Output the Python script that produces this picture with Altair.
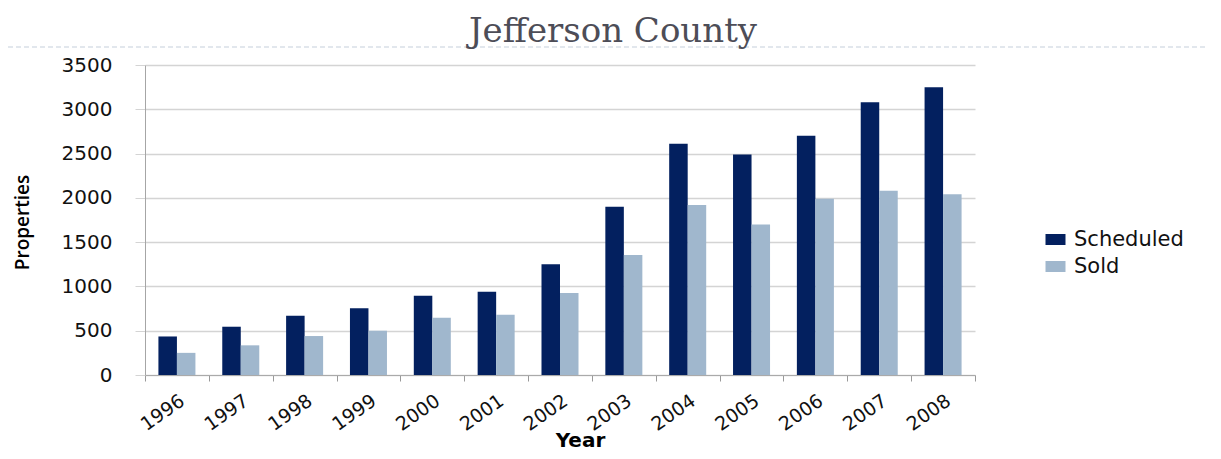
import altair as alt
import pandas as pd

years = ["1996", "1997", "1998", "1999", "2000", "2001", "2002",
         "2003", "2004", "2005", "2006", "2007", "2008"]
scheduled = [435, 545, 670, 755, 895, 940, 1250, 1900, 2610, 2490, 2700, 3080, 3250]
sold = [250, 335, 440, 500, 645, 680, 925, 1355, 1920, 1700, 1990, 2080, 2040]
series = ["Scheduled", "Sold"]
colors = ["#03205f", "#a0b7cd"]
y_ticks = [0, 500, 1000, 1500, 2000, 2500, 3000, 3500]

rows = []
for i, yr in enumerate(years):
    rows.append({"Year": yr, "Series": "Scheduled", "Properties": scheduled[i]})
    rows.append({"Year": yr, "Series": "Sold", "Properties": sold[i]})
df = pd.DataFrame(rows)

bars = alt.Chart(df).mark_bar().encode(
    x=alt.X(
        "Year:N", sort=years,
        scale=alt.Scale(paddingInner=0, paddingOuter=0),
        axis=alt.Axis(
            title="Year", labelAngle=-35, labelAlign="right", labelBaseline="top",
            labelFont="DejaVu Sans", labelFontSize=19, labelColor="#111111",
            labelPadding=10, tickBand="extent", tickSize=6, tickColor="#999999",
            domainColor="#aaaaaa", grid=False,
            titleFont="DejaVu Sans", titleFontSize=20, titleFontWeight="bold",
            titleColor="#000000", titleX=435, titleY=71, titleBaseline="alphabetic",
            titleAlign="center",
        ),
    ),
    xOffset=alt.XOffset("Series:N", sort=series,
                        scale=alt.Scale(paddingOuter=0.725, paddingInner=0)),
    y=alt.Y(
        "Properties:Q",
        scale=alt.Scale(domain=[0, 3500]),
        axis=alt.Axis(
            values=y_ticks, format="d", title="Properties",
            labelFont="DejaVu Sans", labelFontSize=20, labelColor="#111111",
            labelPadding=23, tickSize=10, tickColor="#d4d4d4",
            gridColor="#d4d4d4", gridWidth=1.5, domainColor="#a6a6a6",
            titleFont="Open Sans", titleFontSize=19, titleFontWeight=600,
            titleColor="#000000", titleX=-123, titleY=157, titleBaseline="middle",
            titleAlign="center",
        ),
    ),
    color=alt.Color(
        "Series:N", sort=series,
        scale=alt.Scale(domain=series, range=colors),
        legend=alt.Legend(
            title=None, orient="none", legendX=900, legendY=164,
            symbolType="M-1,-0.55H1V0.55H-1Z", symbolSize=400,
            symbolStrokeWidth=0, labelFont="DejaVu Sans", labelFontSize=21,
            labelColor="#111111", rowPadding=5, labelOffset=8,
        ),
    ),
)

dash = alt.Chart(pd.DataFrame({"a": [0]})).mark_rule(
    color="#c5cfdb", strokeDash=[5, 3], strokeWidth=1
).encode(x=alt.value(-145), x2=alt.value(1075), y=alt.value(-18))

chart = alt.layer(bars, dash).properties(
    width=830, height=310,
    title=alt.Title("Jefferson County", font="DejaVu Serif", fontSize=34,
                    color="#4d4d57", fontWeight="normal", baseline="alphabetic",
                    dx=53, dy=33),
    autosize=alt.AutoSizeParams(type="none"),
    padding={"left": 137, "top": 57, "right": 230, "bottom": 76},
).configure_view(stroke=None)

chart.save("out.html", embed_options={"renderer": "svg", "actions": False})
